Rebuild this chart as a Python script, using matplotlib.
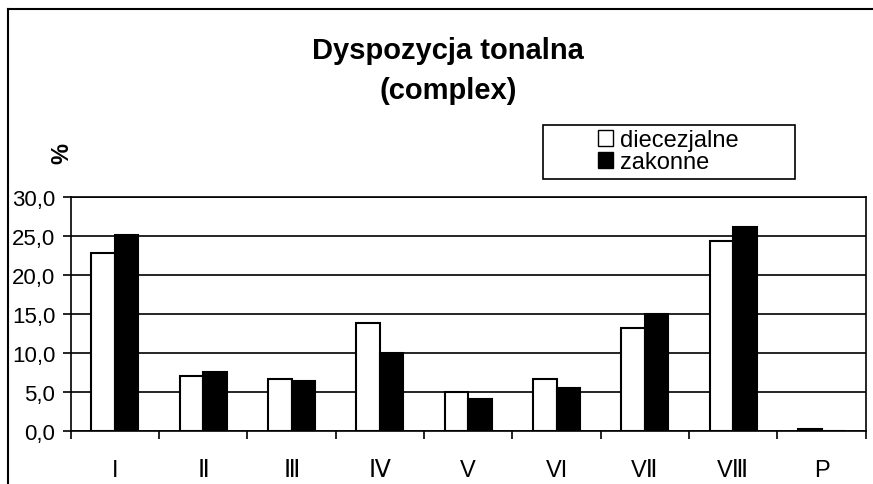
import numpy as np
import matplotlib
matplotlib.use("Agg")
import matplotlib.pyplot as plt
from matplotlib.lines import Line2D
from matplotlib.patches import Patch, Rectangle

plt.rcParams['font.family'] = ['Liberation Sans', 'DejaVu Sans']

categories = ["I", "Ⅱ", "Ⅲ", "Ⅳ", "V", "VI", "VⅡ", "VⅢ", "P"]
diecezjalne = [22.9, 7.1, 6.7, 13.9, 5.0, 6.7, 13.3, 24.4, 0.3]
zakonne = [25.2, 7.6, 6.5, 10.1, 4.2, 5.5, 15.0, 26.2, 0.0]
yticks = [0, 5, 10, 15, 20, 25, 30]

W, H = 873, 485
fig = plt.figure(figsize=(W / 100, H / 100), dpi=100)
ax = fig.add_axes([70.7 / W, 1 - 432.3 / H, (865.7 - 70.7) / W, (432.3 - 198.3) / H])

x = np.arange(len(categories))
bw = 0.265
ax.bar(x - bw / 2, diecezjalne, bw, color="white", edgecolor="black", linewidth=1.5, zorder=3)
ax.bar(x + bw / 2, zakonne, bw, color="black", edgecolor="black", linewidth=1.5, zorder=3)

ax.set_xlim(-0.5, len(categories) - 0.5)
ax.set_ylim(0, 30)
ax.set_yticks(yticks)
ax.set_yticklabels([f"{v:.1f}".replace(".", ",") for v in yticks], fontsize=16)
ax.yaxis.grid(True, color="black", linewidth=1.2, zorder=0)
ax.set_axisbelow(True)

# ticks between categories, labels centred under them
ax.set_xticks(np.arange(len(categories) + 1) - 0.5)
ax.set_xticklabels([])
ax.set_xticks(x, minor=True)
ax.set_xticklabels(categories, minor=True, fontsize=17)
ax.tick_params(axis="x", which="major", direction="out", length=6, width=1.2)
ax.tick_params(axis="x", which="minor", length=0, pad=20)
ax.tick_params(axis="y", direction="out", length=6, width=1.2, pad=5)
for s in ax.spines.values():
    s.set_linewidth(1.2)

fig.text(448 / W, 1 - 51 / H, "Dyspozycja tonalna", ha="center", va="center",
         fontsize=21, fontweight="bold")
fig.text(448 / W, 1 - 91 / H, "(complex)", ha="center", va="center",
         fontsize=21, fontweight="bold")
fig.text(62 / W, 1 - 154 / H, "%", ha="center", va="center", rotation=90,
         fontsize=17, fontweight="bold")

# legend box
fig.add_artist(Rectangle((543 / W, 1 - 180 / H), 252 / W, 54 / H,
                         transform=fig.transFigure, facecolor="white",
                         edgecolor="black", linewidth=1.2))
handles = [Patch(facecolor="white", edgecolor="black", linewidth=1),
           Patch(facecolor="black", edgecolor="black")]
leg = fig.legend(handles, ["diecezjalne", "zakonne"], loc="upper left",
                 bbox_to_anchor=(598 / W, 1 - 130 / H), fontsize=17,
                 frameon=False, handlelength=0.65, handleheight=0.65,
                 handletextpad=0.3, labelspacing=0.0, borderpad=0,
                 borderaxespad=0)

# outer chart border (top and left edges visible)
fig.add_artist(Line2D([8 / W, 1], [1 - 10 / H, 1 - 10 / H], color="black", linewidth=1.5))
fig.add_artist(Line2D([8 / W, 8 / W], [0, 1 - 10 / H], color="black", linewidth=1.5))

fig.savefig("out.png", dpi=100)
